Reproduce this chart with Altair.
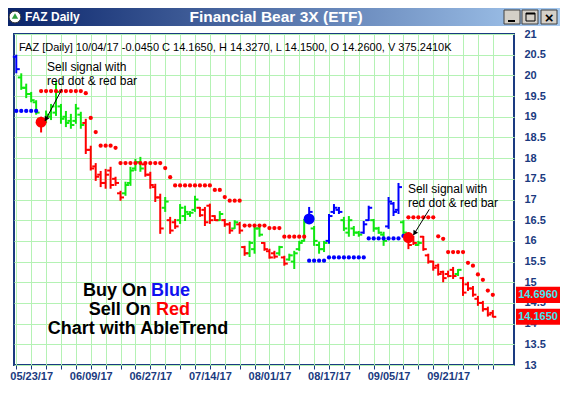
import json
import altair as alt
import pandas as pd

# ---------------- data ----------------
x_label_idx = [3, 15, 27, 39, 51, 63, 75, 87]
x_labels = ["05/23/17", "06/09/17", "06/27/17", "07/14/17",
            "08/01/17", "08/17/17", "09/05/17", "09/21/17"]

highs = [
    20.50, 20.05, 19.80, 19.60, 19.40, 19.00, 19.15, 19.31, 19.84, 19.31,
    19.14, 19.07, 19.31, 19.12, 18.95, 18.30, 17.88, 17.69, 17.74, 17.79,
    17.55, 17.21, 17.43, 17.79, 17.98, 18.03, 17.91, 17.67, 17.38, 17.14,
    17.06, 16.58, 16.53, 16.89, 16.85, 16.72, 17.09, 16.82, 16.82, 16.90,
    16.62, 16.72, 16.53, 16.46, 16.50, 16.46, 15.88, 16.00, 16.41, 16.34,
    15.97, 15.81, 15.76, 15.88, 15.64, 15.69, 15.76, 16.00, 16.53, 16.82,
    16.36, 15.98, 16.00, 16.65, 16.89, 16.82, 16.58, 16.60, 16.36, 16.24,
    16.48, 16.85, 16.53, 16.34, 16.22, 17.06, 16.94, 17.40, 16.50, 16.20,
    16.12, 16.00, 16.12, 15.69, 15.52, 15.45, 15.28, 15.28, 15.37, 15.32,
    15.13, 15.01, 14.91, 14.67, 14.55, 14.41, 14.327]
lows = [
    20.05, 19.65, 19.45, 19.35, 19.05, 18.62, 18.85, 18.92, 19.02, 18.83,
    18.75, 18.71, 18.83, 18.71, 18.10, 17.70, 17.45, 17.30, 17.26, 17.26,
    17.33, 16.97, 17.09, 17.33, 17.69, 17.67, 17.55, 17.26, 16.94, 16.17,
    16.70, 16.17, 16.29, 16.41, 16.48, 16.58, 16.70, 16.58, 16.36, 16.41,
    16.48, 16.48, 16.34, 16.17, 16.29, 16.17, 15.64, 15.61, 15.69, 16.10,
    15.76, 15.57, 15.57, 15.64, 15.40, 15.52, 15.32, 15.76, 15.98, 16.41,
    15.88, 15.69, 15.73, 15.93, 16.65, 16.65, 16.24, 16.10, 16.12, 16.10,
    16.17, 16.48, 16.22, 16.17, 15.88, 16.29, 16.60, 16.65, 16.15, 15.80,
    15.90, 15.88, 15.76, 15.45, 15.28, 15.16, 15.00, 15.12, 15.08, 15.15,
    14.67, 14.79, 14.65, 14.43, 14.29, 14.17, 14.15]
opens = [
    20.45, 19.95, 19.70, 19.55, 19.35, 18.95, 18.90, 19.00, 19.10, 19.25,
    19.00, 18.90, 18.90, 19.05, 18.85, 18.20, 17.80, 17.60, 17.40, 17.70,
    17.50, 17.15, 17.15, 17.40, 17.75, 17.90, 17.85, 17.60, 17.30, 17.05,
    16.80, 16.50, 16.45, 16.50, 16.60, 16.65, 16.75, 16.80, 16.75, 16.85,
    16.60, 16.50, 16.50, 16.40, 16.30, 16.40, 15.85, 15.70, 15.80, 16.30,
    15.95, 15.75, 15.70, 15.70, 15.60, 15.55, 15.50, 15.80, 16.00, 16.50,
    16.30, 15.90, 15.80, 16.00, 16.70, 16.75, 16.50, 16.20, 16.30, 16.20,
    16.20, 16.50, 16.50, 16.30, 16.15, 16.35, 16.90, 16.75, 16.45, 16.15,
    16.05, 15.90, 16.10, 15.65, 15.50, 15.40, 15.25, 15.20, 15.30, 15.20,
    15.10, 14.95, 14.85, 14.60, 14.50, 14.35, 14.26]
closes = [
    20.15, 19.70, 19.55, 19.40, 19.10, 18.80, 19.05, 19.25, 19.60, 18.95,
    18.85, 18.80, 19.20, 18.80, 18.20, 17.75, 17.55, 17.40, 17.60, 17.35,
    17.40, 17.05, 17.35, 17.70, 17.90, 17.75, 17.60, 17.35, 17.05, 16.30,
    16.95, 16.25, 16.35, 16.80, 16.70, 16.68, 17.00, 16.62, 16.45, 16.50,
    16.50, 16.65, 16.40, 16.25, 16.45, 16.25, 15.70, 15.95, 16.30, 16.15,
    15.80, 15.60, 15.62, 15.85, 15.45, 15.65, 15.70, 15.95, 16.45, 16.70,
    16.00, 15.80, 15.95, 16.60, 16.80, 16.70, 16.30, 16.50, 16.20, 16.15,
    16.40, 16.80, 16.30, 16.20, 16.00, 16.95, 16.70, 17.30, 16.20, 15.90,
    15.95, 15.95, 15.80, 15.50, 15.35, 15.20, 15.10, 15.15, 15.15, 15.30,
    14.75, 14.85, 14.70, 14.50, 14.35, 14.22, 14.165]
bar_colors = list(
    "b" + "gggg" + "r" + "gggggggg" + "rrrrrrrr" + "gggg" + "rrrr" + "g" + "rr"
    + "gggg" + "rrrr" + "g" + "rr" + "g" + "rr" + "ggg" + "rrr" + "g" + "r"
    + "gggg" + "b" + "ggg" + "bbb" + "gggg" + "bb" + "ggg" + "bbb" + "g"
    + "rr" + "g" + "rrrrrrr" + "g" + "rrrrrrr")

stops = ([19.14] * 5 + [19.62] * 9 + [19.57, 18.97, 18.63] + [18.30] * 3 + [18.25]
         + [17.88] * 9 + [17.76, 17.54] + [17.34] * 8 + [17.23] * 2 + [17.06]
         + [16.97] * 3 + [16.37] * 5 + [16.31] * 3 + [16.10] * 5
         + [15.52] * 4 + [15.60] * 8 + [16.06] * 7 + [16.12]
         + [16.57] * 6 + [16.11, 16.05] + [15.73] * 4
         + [15.47, 15.40, 15.19, 15.06, 14.80, 14.696])
stop_colors = list("b" * 5 + "r" * 54 + "b" * 20 + "r" * 18)

signal_idx = [5, 59, 79]
signal_price = [18.87, 16.53, 16.08]
signal_colors = ["r", "b", "r"]

badge_values = [14.696, 14.165]
badge_labels = ["14.6960", "14.1650"]

info_line = "FAZ [Daily] 10/04/17  -0.0450 C 14.1650, H 14.3270, L 14.1500, O 14.2600, V 375.2410K"

note_text = ["Sell signal with", "red dot & red bar", "Sell signal with", "red dot & red bar"]
note_x = [6.2, 6.2, 78.9, 78.9]
note_y = [20.21, 19.86, 17.25, 16.92]

arrow_x1 = [9.2, 83.2]
arrow_y1 = [19.67, 16.76]
arrow_x2 = [5.8, 80.0]
arrow_y2 = [18.90, 16.14]
head_x = [6.06, 80.32]
head_y = [18.96, 16.20]
head_angle = [208, 212]

# ---------------- styling ----------------
FONT = "Liberation Sans"
NAVY = "#1A3A80"
GRID = "#B4F2B4"
PAL = {"b": "#0000FF", "g": "#10E810", "r": "#FF0000"}

n = len(highs)
bars = pd.DataFrame({
    "i": list(range(n)), "open": opens, "high": highs, "low": lows,
    "close": closes, "col": [PAL[c] for c in bar_colors],
    "stop": stops, "scol": [PAL[c] for c in stop_colors],
})
signals = pd.DataFrame({"i": signal_idx, "p": signal_price,
                        "col": [PAL[c] for c in signal_colors]})
badges = pd.DataFrame({"v": badge_values, "t": badge_labels})
notes = pd.DataFrame({"i": note_x, "p": note_y, "t": note_text})
arrows = pd.DataFrame({"x1": arrow_x1, "y1": arrow_y1, "x2": arrow_x2, "y2": arrow_y2,
                       "hx": head_x, "hy": head_y, "ang": head_angle})
one = pd.DataFrame({"k": [0]})

idx_json = json.dumps(x_label_idx)
lab_json = json.dumps(x_labels)
label_expr = (f"indexof({idx_json}, datum.value) >= 0 ? "
              f"{lab_json}[indexof({idx_json}, datum.value)] : ''")

x_scale = alt.Scale(domain=[-0.46, 100.27], nice=False, zero=False)
y_scale = alt.Scale(domain=[13, 21], nice=False, zero=False)
x_axis = alt.Axis(values=list(range(0, 97, 3)), grid=True, gridColor=GRID, gridWidth=1,
                  ticks=True, tickColor=NAVY, tickSize=4, tickWidth=1, domain=False,
                  labelExpr=label_expr, labelFont=FONT, labelFontWeight="bold",
                  labelFontSize=11, labelColor=NAVY, labelPadding=1,
                  labelOverlap=False, labelFlush=False, title=None)
y_axis = alt.Axis(orient="right", values=[13 + 0.5 * k for k in range(17)],
                  format=".1~f", grid=True, gridColor=GRID, gridWidth=1,
                  ticks=False, tickSize=0, domain=False, labelFont=FONT,
                  labelFontWeight="bold", labelFontSize=11, labelColor=NAVY,
                  labelPadding=10, title=None)


def X(f):
    return alt.X(f, scale=x_scale, axis=x_axis)


def Y(f):
    return alt.Y(f, scale=y_scale, axis=y_axis)


col = alt.Color("col:N", scale=None)

stem = alt.Chart(bars).mark_rule(strokeWidth=2).encode(
    x=X("i:Q"), y=Y("low:Q"), y2="high:Q", color=col)
open_tick = alt.Chart(bars).transform_calculate(xa="datum.i - 0.7").mark_rule(
    strokeWidth=2).encode(x=X("xa:Q"), x2="i:Q", y=Y("open:Q"), color=col)
close_tick = alt.Chart(bars).transform_calculate(xb="datum.i + 0.7").mark_rule(
    strokeWidth=2).encode(x=X("i:Q"), x2="xb:Q", y=Y("close:Q"), color=col)
stop_dots = alt.Chart(bars).mark_point(filled=True, size=18, opacity=1, shape="circle").encode(
    x=X("i:Q"), y=Y("stop:Q"), color=alt.Color("scol:N", scale=None))
sig_dots = alt.Chart(signals).mark_point(filled=True, size=120, opacity=1, shape="circle").encode(
    x=X("i:Q"), y=Y("p:Q"), color=col)

arrow_lines = alt.Chart(arrows).mark_rule(color="black", strokeWidth=1).encode(
    x=X("x1:Q"), x2="x2:Q", y=Y("y1:Q"), y2="y2:Q")
arrow_heads = alt.Chart(arrows).mark_point(shape="triangle", filled=True, size=30,
                                           opacity=1, color="black").encode(
    x=X("hx:Q"), y=Y("hy:Q"), angle=alt.Angle("ang:Q", scale=None))
note_layer = alt.Chart(notes).mark_text(align="left", baseline="middle", font=FONT,
                                        fontSize=12, color="black").encode(
    x=X("i:Q"), y=Y("p:Q"), text="t:N")

big_parts = pd.DataFrame({
    "t": ["Buy On", "Blue", "Sell On", "Red", "Chart with AbleTrend"],
    "i": [26.33, 27.14, 27.08, 28.15, 24.52],
    "p": [14.79, 14.79, 14.33, 14.33, 13.86],
    "a": ["right", "left", "right", "left", "center"],
    "c": ["black", "#1010F0", "black", "#FF0000", "black"],
})


def big(a):
    return alt.Chart(big_parts).transform_filter(f"datum.a == '{a}'").mark_text(
        align=a, baseline="middle", font=FONT, fontSize=18, fontWeight="bold").encode(
        x=X("i:Q"), y=Y("p:Q"), text="t:N", color=alt.Color("c:N", scale=None))


badge_rect = alt.Chart(badges).transform_calculate(
    lo="datum.v - 0.195", hi="datum.v + 0.195").mark_rect(color="#FF0000").encode(
    x=alt.value(502), x2=alt.value(546), y=Y("lo:Q"), y2="hi:Q")
badge_text = alt.Chart(badges).mark_text(align="center", baseline="middle", font=FONT,
                                         fontSize=11, fontWeight="bold",
                                         color="#3EE6F2").encode(
    x=alt.value(524), y=Y("v:Q"), text="t:N")


def box(x1, x2, y1, y2, **kw):
    return alt.Chart(one).mark_rect(**kw).encode(
        x=alt.value(x1), x2=alt.value(x2), y=alt.value(y1), y2=alt.value(y2))


def label(x, y, text, **kw):
    return alt.Chart(one).mark_text(text=text, font=FONT, **kw).encode(
        x=alt.value(x), y=alt.value(y))


grad = alt.LinearGradient(gradient="linear", x1=0, x2=1, y1=0, y2=0,
                          stops=[alt.GradientStop(color="#0A246A", offset=0),
                                 alt.GradientStop(color="#A6CAF0", offset=1)])
title_bar = box(-6, 546, -26, -8, color=grad)
icon = alt.Chart(one).mark_point(filled=True, size=140, opacity=1, color="white",
                                 stroke="#333333", strokeWidth=1).encode(
    x=alt.value(1), y=alt.value(-17))
icon_tri = alt.Chart(one).mark_point(shape="triangle", filled=True, size=40, opacity=1,
                                     color="#2E9E3E").encode(x=alt.value(1), y=alt.value(-17))
t1 = label(11, -17, "FAZ Daily", align="left", baseline="middle", fontSize=12,
           fontWeight="bold", color="white")
t2 = label(262, -17, "Financial Bear 3X (ETF)", align="center", baseline="middle",
           fontSize=15.5, fontWeight="bold", color="white")
btns = [box(x, x + 16, -24, -10, color="#D4D0C8", stroke="#404040", strokeWidth=1)
        for x in (490, 508, 527)]
g_min = box(494, 501, -14, -12, color="black")
g_max = box(512, 521, -21, -13, fill="#D4D0C8", stroke="black", strokeWidth=1)
g_max_top = box(512, 521, -21, -19.5, color="black")
g_close = label(535, -16.5, "×", align="center", baseline="middle", fontSize=15,
                fontWeight="bold", color="black")
info = label(5, 14, info_line, align="left", baseline="middle", fontSize=11, color="black")

chart = alt.layer(
    stem, open_tick, close_tick, stop_dots, sig_dots,
    arrow_lines, arrow_heads, note_layer, big("right"), big("left"), big("center"),
    badge_rect, badge_text,
    title_bar, icon, icon_tri, t1, t2, *btns, g_min, g_max, g_max_top, g_close, info,
).properties(
    width=500, height=331,
    padding={"left": 6, "top": 26, "right": 46, "bottom": 16},
    autosize=alt.AutoSizeParams(type="none"),
).configure(background="white").configure_view(stroke=NAVY, strokeWidth=2, fill="white")

chart.save("out.html", embed_options={"renderer": "svg", "actions": False})
